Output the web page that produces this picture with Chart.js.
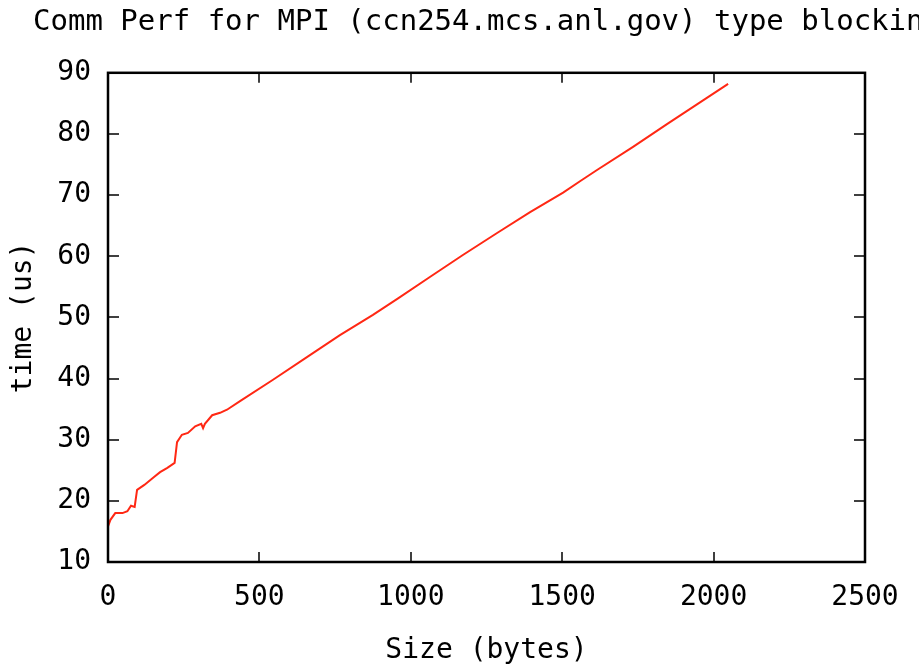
<!DOCTYPE html>
<html>
<head>
<meta charset="utf-8">
<script src="https://cdn.jsdelivr.net/npm/chart.js@4"></script>
<style>
  html, body { margin: 0; padding: 0; background: #fff; overflow: hidden; }
</style>
</head>
<body>
<canvas id="commPerfChart" width="974" height="668"></canvas>
<script>
  // message size (bytes) vs time (us)
  const sizes = [0, 8, 24, 48, 64, 76, 88, 96, 120, 152, 172, 196, 220, 228, 244, 264,
    288, 308, 314, 320, 344, 370, 393, 436, 545, 657, 766, 875, 958, 1063, 1172, 1285,
    1394, 1503, 1560, 1615, 1734, 1846, 2048];
  const times = [15.8, 16.9, 18.0, 18.0, 18.3, 19.2, 19.0, 21.8, 22.6, 23.9, 24.7, 25.4,
    26.2, 29.6, 30.8, 31.1, 32.2, 32.6, 31.9, 32.6, 34.0, 34.4, 34.9, 36.3, 39.8, 43.5,
    47.1, 50.4, 53.1, 56.6, 60.2, 63.8, 67.2, 70.4, 72.3, 74.1, 77.9, 81.6, 88.2];
  const xTicks = [0, 500, 1000, 1500, 2000, 2500];
  const yTicks = [10, 20, 30, 40, 50, 60, 70, 80, 90];

  const mono = "'DejaVu Sans Mono', 'Liberation Mono', monospace";

  // gnuplot style box with inward ticks on all four sides
  const frame = {
    id: "frame",
    afterDraw(chart) {
      const { ctx, chartArea: a, scales: { x, y } } = chart;
      ctx.save();
      ctx.strokeStyle = "#000";
      ctx.lineWidth = 1.5;
      ctx.beginPath();
      xTicks.slice(1, -1).forEach((v) => {
        const px = Math.round(x.getPixelForValue(v));
        ctx.moveTo(px, a.bottom);
        ctx.lineTo(px, a.bottom - 10);
        ctx.moveTo(px, a.top);
        ctx.lineTo(px, a.top + 10);
      });
      yTicks.slice(1, -1).forEach((v) => {
        const py = Math.round(y.getPixelForValue(v));
        ctx.moveTo(a.left, py);
        ctx.lineTo(a.left + 11, py);
        ctx.moveTo(a.right, py);
        ctx.lineTo(a.right - 11, py);
      });
      ctx.stroke();
      ctx.lineWidth = 2.5;
      ctx.strokeRect(a.left, a.top, a.right - a.left, a.bottom - a.top);
      ctx.restore();
    },
  };

  const ctx = document.getElementById("commPerfChart").getContext("2d");
  new Chart(ctx, {
    type: "line",
    data: {
      datasets: [
        {
          data: sizes.map((s, i) => ({ x: s, y: times[i] })),
          borderColor: "rgb(255, 40, 20)",
          borderWidth: 2,
          pointRadius: 0,
          tension: 0,
          fill: false,
        },
      ],
    },
    options: {
      responsive: false,
      animation: false,
      devicePixelRatio: 1,
      layout: { padding: 0 },
      plugins: {
        legend: { display: false },
        tooltip: { enabled: false },
        title: {
          display: true,
          text: "Comm Perf for MPI (ccn254.mcs.anl.gov) type blocking",
          color: "#000",
          font: { family: mono, size: 29, weight: "normal" },
          padding: { top: 5, bottom: 33 },
        },
      },
      scales: {
        x: {
          type: "linear",
          min: 0,
          max: 2500,
          afterBuildTicks: (s) => { s.ticks = xTicks.map((v) => ({ value: v })); },
          afterFit: (s) => { s.height = 106; },
          grid: { display: false, drawTicks: false },
          border: { display: false },
          ticks: {
            color: "#000",
            padding: 19,
            maxRotation: 0,
            autoSkip: false,
            font: { family: mono, size: 28 },
            callback: (v) => String(v),
          },
          title: {
            display: true,
            text: "Size (bytes)",
            color: "#000",
            font: { family: mono, size: 28 },
            padding: { top: 0, bottom: 0 },
          },
        },
        y: {
          min: 10,
          max: 90,
          afterBuildTicks: (s) => { s.ticks = yTicks.map((v) => ({ value: v })); },
          afterFit: (s) => { s.width = 108; },
          grid: { display: false, drawTicks: false },
          border: { display: false },
          ticks: {
            color: "#000",
            padding: 17,
            autoSkip: false,
            font: { family: mono, size: 28 },
            callback: (v) => String(v),
          },
          title: {
            display: true,
            text: "time (us)",
            color: "#000",
            font: { family: mono, size: 28 },
            padding: { top: 7, bottom: 0 },
          },
        },
        // empty right-hand box so the plot ends where the reference does
        yRight: {
          position: "right",
          min: 10,
          max: 90,
          afterFit: (s) => { s.width = 109; },
          grid: { display: false, drawTicks: false },
          border: { display: false },
          ticks: { display: false },
        },
      },
    },
    plugins: [frame],
  });
</script>
</body>
</html>
